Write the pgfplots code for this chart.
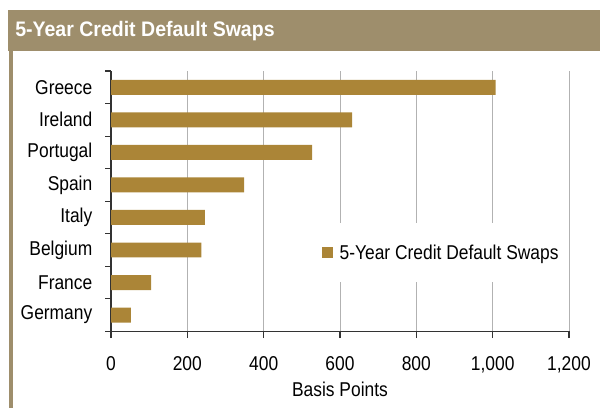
\documentclass[border=0pt]{standalone}
\usepackage{fontspec}
\setmainfont{Liberation Sans}[FakeStretch=0.87]
\newfontfamily\titlefont{Liberation Sans}[FakeStretch=0.93]
\usepackage{pgfplots}
\pgfplotsset{compat=1.18}
\definecolor{band}{HTML}{9E8E6C}
\definecolor{barc}{HTML}{AB8537}
\begin{document}
\begin{tikzpicture}[x=1pt,y=1pt]
\useasboundingbox (0,0) rectangle (450,306);
\fill[band] (6.2,267.75) rectangle (450,298.5);
\fill[band] (7.1,0) rectangle (9.4,267.75);
\node[anchor=base west, inner sep=0, text=white, font=\titlefont\fontsize{15.75}{18}\selectfont\bfseries] at (11.25,278.5) {5-Year Credit Default Swaps};
\begin{axis}[
 at={(83.25pt,57.5pt)}, anchor=south west,
 scale only axis, width=343.5pt, height=195.25pt,
 xbar, bar width=0.46,
 xmin=0, xmax=1200, ymin=-0.5, ymax=7.5,
 xtick={0,200,...,1200},
 ytick={0,...,7},
 yticklabels={Germany,France,Belgium,Italy,Spain,Portugal,Ireland,Greece},
 minor ytick={-0.5,0.5,...,7.5},
 axis lines*=left,
 axis line style={black!80, line width=0.8pt},
 tick align=outside,
 major tick length=5pt, minor tick length=4.5pt,
 every major y tick/.append style={draw=none},
 tick style={black!80, line width=0.8pt},
 xmajorgrids,
 major x grid style={gray!60, line width=0.75pt},
 /pgf/number format/.cd, 1000 sep={,}, assume math mode=true, /pgfplots/.cd,
 tick label style={font=\fontsize{15}{18}\selectfont, text=black},
 yticklabel style={xshift=-5.5pt},
 xticklabel style={yshift=-10.5pt},
 xlabel={Basis Points},
 label style={font=\fontsize{15}{18}\selectfont},
 legend style={at={(axis description cs:0.452,0.3016)}, anchor=west, draw=none, fill=white,
   inner xsep=3pt, inner ysep=14pt, font=\fontsize{15}{18}\selectfont,
   /tikz/every odd column/.append style={column sep=3pt}},
 legend image code/.code={\fill[barc] (0pt,-4pt) rectangle (8pt,4pt);},
]
\addplot[fill=barc, draw=none] coordinates {(52,0) (105,1) (237,2) (246,3) (349,4) (527,5) (632,6) (1008,7)};
\addlegendentry{5-Year Credit Default Swaps}
\end{axis}
\end{tikzpicture}
\end{document}
